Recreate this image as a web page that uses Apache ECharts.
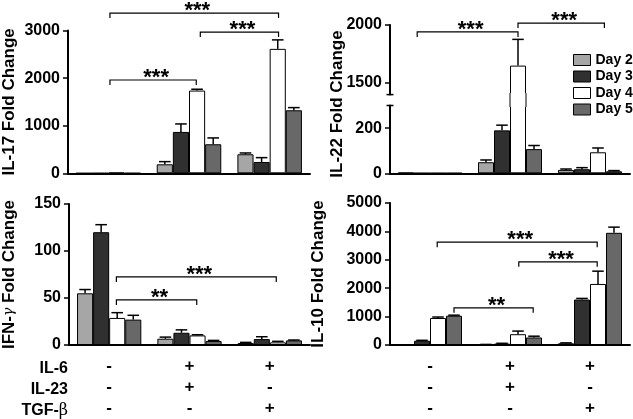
<!DOCTYPE html>
<html><head><meta charset="utf-8">
<script src="https://cdn.jsdelivr.net/npm/echarts@6/dist/echarts.min.js"></script>
<style>html,body{margin:0;padding:0;background:#fff}#c{width:633px;height:419px}</style>
</head><body><div id="c"></div>
<script>
// ---------- data ----------
const days = ['Day 2', 'Day 3', 'Day 4', 'Day 5'];
const conditions = ['-\n-\n-', '+\n+\n-', '+\n-\n+'];   // IL-6 / IL-23 / TGF-β
const rowLabels = ['IL-6', 'IL-23', 'TGF-{b|β}'];

// means: one row per day, one value per condition; errTop = upper end of error bar
const il17Mean   = [[2, 189, 400], [3, 869, 238], [15, 1738, 2614], [4, 610, 1324]];
const il17ErrTop = [[2, 245, 427], [3, 1037, 329], [15, 1766, 2803], [4, 743, 1380]];
const il22Mean   = [[3, 49, 15], [1, 190, 18], [1, 1650, 93], [1, 107, 9]];
const il22ErrTop = [[3, 59, 19], [1, 213, 25], [1, 1876, 112], [1, 123, 12]];
const ifngMean   = [[55, 6.7, 2.1], [120, 13, 6.3], [28.8, 10.2, 2.8], [27, 4.2, 4.9]];
const ifngErrTop = [[59, 8.4, 2.8], [128, 16.1, 8.8], [34.4, 10.9, 3.9], [31.6, 4.9, 5.3]];
const il10Mean   = [[5, 15, 60], [150, 50, 1600], [950, 380, 2150], [1030, 265, 3950]];
const il10ErrTop = [[5, 20, 75], [165, 60, 1640], [985, 490, 2600], [1050, 310, 4150]];

// significance brackets: [fromCondition, fromBar, toCondition, toBar, y, label]
const il17Brackets = [[0, 1.6, 2, 2.05, 3366, '***'], [1, 2.2, 2, 2.05, 2967, '***'], [0, 1.6, 1, 1.95, 1960, '***']];
const il22Brackets = [[0, 0.7, 1, 2.0, 1940, '***'], [1, 2.0, 2, 2.4, 2017, '***']];
const ifngBrackets = [[0, 1.95, 2, 1.9, 72.4, '***'], [0, 1.95, 1, 1.95, 47.9, '**']];
const il10Brackets = [[0, 1.95, 2, 1.95, 3620, '***'], [1, 2.05, 2, 1.95, 2930, '***'], [0, 3.0, 1, 2.95, 1310, '**']];

// IL-22 axis break range
const il22Break = [300, 1400];

// ---------- styling ----------
const FONT = '"Liberation Sans", Arial, sans-serif';
const dayColors = ['#a6a6a6', '#303030', '#ffffff', '#686868'];
const BAR_FRAC = 0.8;

function barSeries(g, means) {
  return means.map((row, d) => ({
    type: 'bar', name: days[d], xAxisIndex: g, yAxisIndex: g, data: row,
    barGap: '0%', barCategoryGap: '20%', silent: true,
    itemStyle: { color: dayColors[d], borderColor: '#000', borderWidth: 1 },
    emphasis: { disabled: true }
  }));
}
function errSeries(g, means, tops, keep) {
  const data = [];
  means.forEach((row, d) => row.forEach((v, c) => {
    if (!keep || keep(v, tops[d][c])) data.push([c, d, v, tops[d][c]]);
  }));
  return {
    type: 'custom', xAxisIndex: g, yAxisIndex: g, data, z: 5, silent: true,
    encode: { x: 0, y: 2 },
    renderItem(params, api) {
      const c = api.value(0), d = api.value(1), v = api.value(2), t = api.value(3);
      if (!(t > v)) return;
      const bw = api.size([1, 0])[0] * BAR_FRAC / 4;
      const p0 = api.coord([c, v]), p1 = api.coord([c, t]);
      const x = p0[0] + (d - 1.5) * bw, cap = bw * 0.36;
      const st = { stroke: '#000', lineWidth: 1.5 };
      return { type: 'group', children: [
        { type: 'line', shape: { x1: x, y1: p0[1], x2: x, y2: p1[1] }, style: st },
        { type: 'line', shape: { x1: x - cap, y1: p1[1], x2: x + cap, y2: p1[1] }, style: st }
      ]};
    }
  };
}
// continuation of bars through the axis break (no top/bottom edge)
function breakFillSeries(g, means, range) {
  const data = [];
  means.forEach((row, d) => row.forEach((v, c) => { if (v > range[1]) data.push([c, d, v]); }));
  return {
    type: 'custom', xAxisIndex: g, yAxisIndex: g, data, z: 4, silent: true,
    encode: { x: 0, y: 2 },
    renderItem(params, api) {
      const c = api.value(0), d = api.value(1);
      const bw = api.size([1, 0])[0] * BAR_FRAC / 4;
      const pTop = api.coord([c, range[1]]), pBot = api.coord([c, range[0]]);
      const x0 = pTop[0] + (d - 2) * bw, x1 = x0 + bw;
      const y0 = pTop[1] - 1.5, y1 = pBot[1] + 1.5;
      const st = { stroke: '#000', lineWidth: 1 };
      return { type: 'group', children: [
        { type: 'rect', shape: { x: x0, y: y0, width: bw, height: y1 - y0 }, style: { fill: dayColors[d] } },
        { type: 'line', shape: { x1: x0, y1: y0, x2: x0, y2: y1 }, style: st },
        { type: 'line', shape: { x1: x1, y1: y0, x2: x1, y2: y1 }, style: st }
      ]};
    }
  };
}
function bracketSeries(g, brackets) {
  return {
    type: 'custom', xAxisIndex: g, yAxisIndex: g, z: 6, silent: true,
    data: brackets.map(b => [b[0], b[1], b[2], b[3], b[4]]),
    encode: { x: 0, y: 4 },
    renderItem(params, api) {
      const bw = api.size([1, 0])[0] * BAR_FRAC / 4;
      const a = api.coord([api.value(0), api.value(4)]);
      const b = api.coord([api.value(2), api.value(4)]);
      const x1 = a[0] + (api.value(1) - 1.5) * bw, x2 = b[0] + (api.value(3) - 1.5) * bw;
      const y = a[1], drop = 5;
      return { type: 'group', children: [
        { type: 'polyline', shape: { points: [[x1, y + drop], [x1, y], [x2, y], [x2, y + drop]] },
          style: { stroke: '#000', lineWidth: 1.2, fill: 'none' } },
        { type: 'text', x: (x1 + x2) / 2 + 3, y: y - 2,
          style: { text: brackets[params.dataIndex][5], font: 'bold 22px ' + FONT,
                   align: 'center', verticalAlign: 'middle', fill: '#000' } }
      ]};
    }
  };
}

const axisLineStyle = { color: '#000', width: 2 };
const tickStyle = { color: '#000', width: 1.5 };
const plain = v => String(v);
const labelStyle = { color: '#000', fontFamily: FONT, fontWeight: 'bold', fontSize: 16, margin: 8, formatter: plain };
const nameStyle = { color: '#000', fontFamily: FONT, fontWeight: 'bold', fontSize: 17,
  rich: { g: { fontFamily: '"DejaVu Serif", serif', fontStyle: 'italic', fontWeight: 'normal', fontSize: 14, color: '#000' } } };

function xCat(g, opts) {
  return Object.assign({
    type: 'category', gridIndex: g, data: conditions,
    axisLine: { lineStyle: axisLineStyle },
    axisTick: { alignWithLabel: true, length: 5, lineStyle: tickStyle },
    axisLabel: { show: false }, splitLine: { show: false }
  }, opts || {});
}
function yVal(g, opts) {
  return Object.assign({
    type: 'value', gridIndex: g,
    axisLine: { show: true, lineStyle: axisLineStyle },
    axisTick: { show: true, length: 5, lineStyle: tickStyle },
    axisLabel: labelStyle, splitLine: { show: false },
    nameLocation: 'middle', nameTextStyle: nameStyle
  }, opts || {});
}
const bottomLabel = { show: true, color: '#000', fontFamily: FONT, fontWeight: 'bold', fontSize: 17, lineHeight: 21, margin: 11 };

const option = {
  animation: false,
  backgroundColor: '#fff',
  grid: [
    { left: 67, top: 30.5, width: 243, height: 142.8 },   // IL-17
    { left: 390, top: 25, width: 240, height: 69.6 },     // IL-22 upper
    { left: 390, top: 94.6, width: 240, height: 10.9 },   // IL-22 break
    { left: 390, top: 105.5, width: 240, height: 67.8 },  // IL-22 lower
    { left: 67, top: 204, width: 243, height: 142.5 },    // IFN-g
    { left: 390, top: 203, width: 240, height: 144 }      // IL-10
  ],
  xAxis: [
    xCat(0), xCat(1, { show: false }), xCat(2, { show: false }), xCat(3),
    xCat(4, { axisLabel: bottomLabel }), xCat(5, { axisLabel: bottomLabel })
  ],
  yAxis: [
    yVal(0, { min: 0, max: 3000, interval: 1000, name: 'IL-17 Fold Change', nameGap: 50 }),
    yVal(1, { min: il22Break[1], max: 2000,
      axisLine: { show: true, lineStyle: axisLineStyle, symbol: ['rect', 'none'], symbolSize: [7, 1.5] },
      axisLabel: Object.assign({ customValues: [1500, 2000] }, labelStyle),
      axisTick: { show: true, length: 5, lineStyle: tickStyle, customValues: [1500, 2000] } }),
    yVal(2, { show: false, min: il22Break[0], max: il22Break[1] }),
    yVal(3, { min: 0, max: il22Break[0],
      axisLine: { show: true, lineStyle: axisLineStyle, symbol: ['none', 'rect'], symbolSize: [7, 1.5] },
      axisLabel: Object.assign({ customValues: [0, 200] }, labelStyle),
      axisTick: { show: true, length: 5, lineStyle: tickStyle, customValues: [0, 200] } }),
    yVal(4, { min: 0, max: 150, interval: 50, name: 'IFN-{g|γ} Fold Change', nameGap: 51 }),
    yVal(5, { min: 0, max: 5000, interval: 1000, name: 'IL-10 Fold Change', nameGap: 63 })
  ],
  legend: {
    data: days, orient: 'vertical', left: 573, top: 53, padding: 0, icon: 'rect',
    itemWidth: 17, itemHeight: 11, itemGap: 2.5, selectedMode: false,
    textStyle: { color: '#000', fontFamily: FONT, fontWeight: 'bold', fontSize: 14 },
    itemStyle: { borderColor: '#000', borderWidth: 1 }
  },
  graphic: [
    { type: 'text', x: 337.5, y: 104, rotation: Math.PI / 2,
      style: { text: 'IL-22 Fold Change', font: 'bold 17px ' + FONT, fill: '#000', align: 'center', verticalAlign: 'middle' } },
    { type: 'text', x: 68, y: 358,
      style: { text: rowLabels.join('\n'), fill: '#000', align: 'right', verticalAlign: 'top',
        fontFamily: FONT, fontWeight: 'bold', fontSize: 16, lineHeight: 21,
        rich: { b: { fontFamily: '"DejaVu Serif", serif', fontWeight: 'normal', fontSize: 16, lineHeight: 21 } } } }
  ],
  series: [].concat(
    barSeries(0, il17Mean), errSeries(0, il17Mean, il17ErrTop), bracketSeries(0, il17Brackets),
    barSeries(1, il22Mean), errSeries(1, il22Mean, il22ErrTop, (v, t) => v > il22Break[1]), bracketSeries(1, il22Brackets),
    breakFillSeries(2, il22Mean, il22Break),
    barSeries(3, il22Mean), errSeries(3, il22Mean, il22ErrTop, (v, t) => t <= il22Break[0]),
    barSeries(4, ifngMean), errSeries(4, ifngMean, ifngErrTop), bracketSeries(4, ifngBrackets),
    barSeries(5, il10Mean), errSeries(5, il10Mean, il10ErrTop), bracketSeries(5, il10Brackets)
  )
};
const chart = echarts.init(document.getElementById('c'), null, { renderer: 'canvas' });
chart.setOption(option);
</script></body></html>
